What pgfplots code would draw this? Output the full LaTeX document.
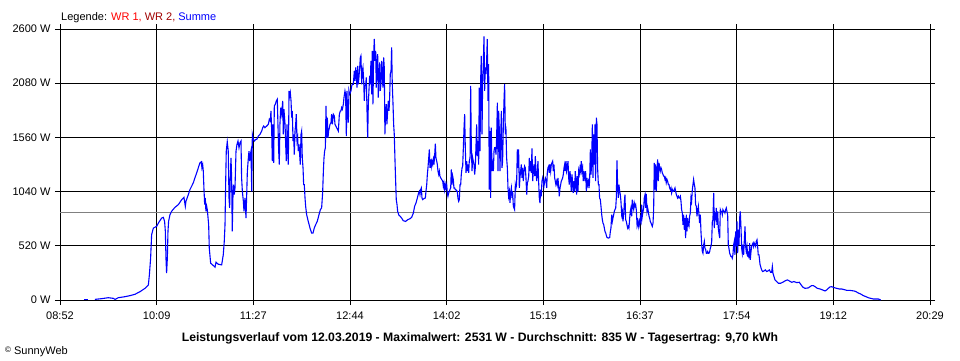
\documentclass[border=0pt]{standalone}
\usepackage{pgfplots}
\pgfplotsset{compat=1.18}
\usepackage{fontspec}
\setmainfont{Liberation Sans}
\definecolor{wrone}{RGB}{255,0,0}
\definecolor{wrtwo}{RGB}{160,0,0}
\definecolor{summe}{RGB}{0,0,255}
\pgfplotstableread{
t P
28.0 6
33.4 13
38.7 22
42.7 16
44.1 6
46.7 22
52.1 32
56.1 42
60.1 55
64.1 80
68.1 112
70.8 144
71.6 241
72.6 401
73.4 626
74.8 690
77.4 706
78.8 738
81.4 786
82.8 793
83.8 754
84.4 658
84.9 401
85.4 257
86.0 401
86.5 658
87.0 754
88.1 819
89.4 851
92.1 889
94.8 915
97.5 963
99.3 985
100.4 899
100.9 947
102.8 1011
104.1 1059
106.8 1124
108.1 1172
109.5 1220
110.8 1268
112.1 1316
113.2 1326
113.7 1268
114.3 1300
114.8 1236
115.3 1075
115.9 915
116.4 979
116.9 851
117.5 899
118.0 867
118.5 803
119.1 722
119.6 498
120.7 353
122.8 331
124.2 315
125.0 363
126.8 343
129.5 337
130.8 433
131.6 562
132.2 722
132.7 1107
133.2 1428
134.0 1518
134.8 1428
135.4 979
135.9 883
136.4 1172
137.0 1364
137.5 1172
138.0 658
138.6 1011
139.1 1107
139.6 1011
140.2 1075
141.0 1428
141.8 1493
142.6 1525
143.4 1461
144.2 1509
145.0 1525
145.5 1172
146.1 1043
146.9 947
147.4 851
148.2 979
149.0 786
149.5 979
150.1 1236
150.9 1364
151.4 1428
151.9 1332
152.5 1396
153.0 1428
153.6 1043
154.1 1589
154.9 1541
155.7 1525
156.8 1541
157.6 1541
158.9 1573
160.2 1589
161.6 1621
162.4 1653
163.2 1669
164.2 1653
165.6 1669
166.9 1685
167.7 1733
168.5 1717
169.0 1814
169.6 1621
170.1 1332
170.6 1685
171.2 1316
171.7 1862
172.5 1878
173.3 1910
174.1 1926
174.6 1685
175.2 1428
175.7 1300
176.2 1685
176.8 1846
177.6 1782
178.4 1910
178.9 1589
179.4 1830
180.3 1685
180.8 1493
181.3 1332
181.9 1685
182.4 1428
182.9 1300
183.5 2006
184.0 1958
184.5 1990
185.1 1910
185.6 1749
186.1 1814
186.7 1525
187.2 1589
187.7 1396
188.3 1621
188.8 1685
189.3 1782
189.9 1525
190.4 1557
190.9 1428
191.5 1493
192.0 1396
192.5 1300
193.1 1589
193.6 1621
194.1 1364
194.7 1268
195.2 1107
195.7 1107
196.3 979
196.8 899
197.6 819
198.9 754
200.3 690
201.6 642
202.7 642
203.7 690
204.8 722
206.1 754
207.5 819
208.6 867
209.6 883
210.4 1027
211.0 1236
211.5 1364
212.0 1428
212.6 1461
213.1 1862
213.6 1557
214.2 1749
214.7 1557
215.2 1621
215.8 1653
216.3 1685
217.1 1701
217.6 1782
218.2 1685
219.0 1782
219.8 1766
220.3 1685
221.6 1653
223.0 1621
223.8 1782
224.6 1814
225.1 1814
225.6 1846
226.2 1830
227.0 1878
227.5 1942
228.3 2006
228.8 1974
229.4 1573
229.9 2006
230.4 1782
231.0 1701
231.5 2006
232.0 1974
232.6 1990
233.1 2006
233.7 2054
234.2 2070
235.0 2070
235.8 2199
236.3 2103
236.9 2231
237.4 2167
237.9 2038
238.5 2247
239.0 2070
239.5 2135
240.1 2231
240.6 2327
241.1 2343
241.7 2070
242.2 2199
242.7 2231
243.3 2103
243.8 1910
244.3 2054
244.9 2070
245.4 2135
245.9 1846
246.5 1557
247.0 1878
247.5 2006
248.1 2151
248.6 2070
249.1 2295
249.7 1974
250.2 2391
250.7 1878
251.3 2359
251.8 2504
252.3 2295
252.9 2391
253.4 2038
253.9 2263
254.5 2359
255.0 1942
255.5 2167
256.1 2279
256.6 2006
257.1 2070
257.7 2295
258.2 2167
258.7 2038
259.3 2327
259.8 2231
260.3 1589
260.9 1814
261.4 1878
261.9 1685
262.5 1814
263.0 1910
263.6 1814
264.1 1942
264.6 2167
265.2 2199
265.7 2424
266.2 2070
266.8 1878
267.3 1685
267.8 1589
268.4 1332
268.9 1140
269.4 963
270.0 915
270.5 851
271.6 812
272.6 803
273.7 786
275.0 761
276.9 754
278.5 770
280.4 780
281.7 793
283.1 835
284.1 899
285.2 931
286.3 979
287.3 1027
287.9 1043
288.4 1011
288.9 1059
289.5 1075
290.0 979
290.5 963
291.6 973
292.7 979
293.2 1043
293.8 1107
294.3 1204
294.8 1268
295.4 1364
295.9 1445
296.4 1268
297.0 1348
297.5 1284
298.0 1332
298.6 1300
299.1 1348
299.6 1300
300.2 1396
300.7 1499
301.2 1364
301.8 1332
302.3 1300
302.8 1236
303.4 1204
303.9 1236
304.4 1188
305.0 1172
305.8 1156
306.6 1140
307.1 1091
307.6 1124
308.2 1059
308.7 1107
309.2 1075
309.8 1107
310.3 1027
310.8 995
311.4 1027
311.9 1043
312.4 1059
313.0 1075
313.5 1252
314.0 1107
314.6 1188
315.1 1156
315.6 1075
316.2 1075
316.7 1059
317.2 1059
317.8 1043
318.3 1043
318.8 979
319.4 947
319.9 963
320.5 1107
321.0 1107
321.5 1204
322.1 1268
322.6 1284
323.1 1445
323.7 1653
324.2 1782
324.7 1461
325.3 1220
325.8 1332
326.3 1236
326.9 1300
327.4 1220
327.9 1332
328.5 1364
329.0 2054
329.5 1493
330.1 1236
330.6 1364
331.1 1332
331.7 1300
332.2 1204
332.7 1268
333.3 1493
333.8 1685
334.3 1380
334.9 1525
335.4 1300
335.9 2038
336.5 1428
337.0 2103
337.5 2343
338.1 1589
338.6 2087
339.1 2263
339.7 2529
340.2 2006
340.7 2231
341.3 2167
341.8 2295
342.3 2504
342.9 1910
343.4 2263
343.9 1059
344.5 1621
345.0 979
345.5 1653
346.1 1236
346.6 1300
347.2 1236
347.7 1428
348.2 1461
348.8 1461
349.3 1396
349.8 1557
350.4 1894
350.9 1236
351.4 1814
352.0 1621
352.5 1236
353.0 1525
353.6 1814
354.1 1268
354.6 1332
355.2 1685
355.7 1910
356.2 2070
356.8 1589
357.3 1621
357.8 1364
358.4 1268
358.9 1075
359.4 995
360.0 1043
360.5 931
361.0 1027
361.6 1075
362.1 979
362.6 1043
363.2 899
363.7 883
364.2 867
364.8 1107
365.3 1075
365.8 1107
366.4 1445
366.9 1268
367.4 1445
368.0 1075
368.5 1172
369.0 1236
369.6 1300
370.1 1172
370.6 1268
371.2 1140
371.7 1236
372.2 1284
372.8 1268
373.3 1172
373.9 1011
374.4 1124
374.9 1140
375.5 1188
376.0 1364
376.5 1236
377.1 1332
377.6 1220
378.1 1454
378.7 1140
379.2 1236
379.7 1300
380.3 1188
380.8 1380
381.3 1236
381.9 1140
382.4 1220
382.9 1332
383.5 1124
384.0 979
384.5 931
385.1 1059
385.6 995
386.1 1140
386.7 1172
387.2 1140
387.7 1091
388.3 1140
388.8 1172
389.3 1156
389.9 1075
390.4 1220
390.9 1268
391.5 1284
392.0 1220
392.5 1300
393.1 1236
393.6 1300
394.1 1316
394.7 1332
395.2 1236
395.7 1300
396.3 1172
396.8 1140
397.3 1107
397.9 1140
398.4 1107
398.9 1172
399.5 1091
400.0 995
400.6 1075
401.1 1107
401.6 1140
402.2 1156
402.7 1172
403.2 1204
403.8 1268
404.3 1300
404.8 1236
405.4 1332
405.9 1236
406.4 1268
407.0 1332
407.5 1172
408.0 1107
408.6 1236
409.1 1156
409.6 1043
410.2 1204
410.7 1107
411.2 1027
411.8 1140
412.3 1043
412.8 1236
413.4 1124
413.9 1011
414.4 1188
415.0 1043
415.5 1236
416.0 1204
416.6 1268
417.1 1236
417.6 1332
418.2 1236
418.7 1268
419.2 1140
419.8 1236
420.6 1140
421.1 1236
421.7 1043
422.2 1172
422.7 1107
423.3 1140
423.8 1075
424.3 1140
424.9 1445
425.4 1204
425.9 1300
426.5 1685
427.0 1172
427.5 1589
428.1 1300
428.6 1685
429.1 1140
429.7 1749
430.2 1685
430.7 1268
431.3 1107
431.8 1107
432.3 979
432.9 963
433.4 899
434.0 819
434.5 770
435.0 738
435.6 722
436.1 690
436.6 658
437.2 642
437.7 620
438.2 600
439.3 594
440.4 600
440.9 658
441.4 690
442.0 819
442.5 754
443.0 786
443.6 819
444.1 851
444.6 867
445.2 883
445.7 979
446.2 1339
446.8 1075
447.3 979
447.8 1107
448.4 1043
448.9 1011
449.4 947
450.0 819
450.5 851
451.0 754
451.6 819
452.1 931
452.6 1011
453.2 770
453.7 754
454.2 722
454.8 690
455.3 706
455.8 690
456.4 786
456.9 851
457.4 883
458.0 803
458.5 963
459.0 899
459.6 867
460.1 931
460.7 899
461.2 915
461.7 867
462.3 722
462.8 754
463.3 706
463.9 754
464.4 722
464.9 786
465.5 754
466.0 915
466.5 803
467.1 851
467.6 883
468.1 979
468.7 1011
469.2 883
469.7 1018
470.3 851
470.8 883
471.3 851
471.9 803
472.4 786
472.9 754
473.5 738
474.0 722
474.5 706
475.1 738
475.6 867
476.1 1316
476.7 1059
477.2 1300
477.7 1043
478.3 1236
478.8 1348
479.3 1140
479.9 1316
480.4 1268
480.9 1236
481.5 1268
482.0 1252
482.5 1220
483.1 1204
483.6 1188
484.1 1188
484.7 1156
485.2 1172
485.7 1124
486.3 1156
486.8 1140
487.4 1107
487.9 1107
488.4 1075
489.0 1059
489.5 1075
490.0 1027
490.6 1059
491.1 1043
491.6 1043
492.2 1059
492.7 1075
493.2 1043
493.8 1011
494.3 995
494.8 979
495.4 995
495.9 979
496.4 979
497.0 995
497.5 947
498.0 867
498.6 835
499.1 722
499.6 819
500.2 674
500.7 786
501.2 594
501.8 819
502.3 658
502.8 786
503.4 722
503.9 706
504.4 803
505.0 835
505.5 979
506.0 947
506.6 1059
507.1 1107
507.6 1156
508.2 1107
508.7 1075
509.2 915
509.8 899
510.3 803
510.8 851
511.4 899
511.9 819
512.4 738
513.0 819
513.5 658
514.1 530
514.6 465
515.1 449
515.7 530
516.2 562
516.7 498
517.3 482
517.8 449
518.3 449
518.9 465
519.4 449
519.9 449
520.5 465
521.0 498
521.5 514
522.1 562
522.6 754
523.1 770
523.7 1027
524.2 690
524.7 819
525.3 786
525.8 883
526.3 722
526.9 851
527.4 690
527.9 642
528.5 594
529.0 867
529.5 851
530.1 851
530.6 819
531.1 867
531.7 851
532.2 851
532.7 835
533.3 867
533.8 883
534.3 851
534.9 819
535.4 530
535.9 498
536.5 449
537.0 433
537.5 417
538.1 417
538.6 401
539.1 433
539.7 530
540.2 562
540.7 433
541.3 658
541.8 514
542.4 754
542.9 449
543.4 674
544.0 530
544.5 786
545.0 851
545.6 690
546.1 498
546.6 449
547.2 530
547.7 433
548.2 562
548.8 706
549.3 514
549.8 465
550.4 514
550.9 433
551.4 449
552.0 401
552.5 546
553.0 385
553.6 465
554.1 514
554.6 530
555.2 546
555.7 514
556.2 546
556.8 530
557.3 514
557.8 562
558.4 578
558.9 514
559.4 433
560.0 433
560.8 343
561.3 321
562.1 289
562.9 273
564.0 279
565.1 289
566.1 273
567.2 279
568.3 289
569.3 266
570.1 266
570.7 321
571.2 257
572.0 225
572.8 193
574.2 177
575.5 161
577.4 161
579.0 170
580.8 183
582.7 193
584.3 183
586.2 170
588.0 177
590.2 167
592.3 170
593.4 151
595.0 125
596.8 112
599.5 116
600.9 128
602.2 138
603.5 138
604.9 128
606.7 112
608.9 106
611.0 96
612.9 87
614.2 96
615.5 112
616.9 125
618.2 128
620.1 119
622.2 112
624.3 106
626.2 106
628.1 100
630.2 93
632.4 93
634.2 90
636.1 87
637.7 80
639.6 67
641.4 58
643.6 42
645.7 32
647.6 22
649.4 16
651.6 10
653.7 10
655.6 10
656.9 3
657.5 0
}\summe
\begin{document}
\begin{tikzpicture}[x=1pt,y=1pt,font=\fontsize{11}{13}\selectfont]
\path[use as bounding box] (0,0) rectangle (960,360);
\begin{axis}[
  at={(60pt,60pt)}, anchor=south west,
  scale only axis, width=870pt, height=271pt,
  xmin=0, xmax=697, ymin=0, ymax=2600,
  xtick={0,77.444,154.889,232.333,309.778,387.222,464.667,542.111,619.556,697},
  xticklabels={08:52,10:09,11:27,12:44,14:02,15:19,16:37,17:54,19:12,20:29},
  minor x tick num=1,
  ytick={0,520,1040,1560,2080,2600},
  yticklabels={0 W,520 W,1040 W,1560 W,2080 W,2600 W},
  tick align=outside, major tick length=5pt, minor tick length=5pt,
  tick style={black, line width=1pt},
  xmajorgrids, xminorgrids, ymajorgrids,
  grid style={black, line width=1pt},
  minor grid style={black, line width=1pt},
  axis line style={black, line width=1pt},
  every tick label/.append style={font=\fontsize{11}{13}\selectfont},
  xticklabel style={yshift=-3.5pt},
  yticklabel style={xshift=-1pt},
  clip=true,
]
\addplot[gray, line width=1pt, forget plot] coordinates {(0,835) (697,835)};
\addplot[summe, line width=1.1pt, mark=none] coordinates {(19.2,6) (22.7,6)};
\addplot[summe, line width=1.1pt, mark=none] table[x=t, y=P] {\summe};
\end{axis}
\node[anchor=base west, inner sep=0] at (61,340) {Legende: \textcolor{wrone}{WR 1,} \textcolor{wrtwo}{WR 2,} \textcolor{summe}{Summe}};
\node[anchor=base, inner sep=0, font=\fontsize{12.2}{14}\selectfont\bfseries] at (480,19) {Leistungsverlauf vom 12.03.2019 - Maximalwert: 2531 W - Durchschnitt: 835 W - Tagesertrag: 9,70 kWh};
\node[anchor=base west, inner sep=0] at (5,6) {\raisebox{2pt}{\fontsize{8}{8}\selectfont ©} SunnyWeb};
\end{tikzpicture}
\end{document}
